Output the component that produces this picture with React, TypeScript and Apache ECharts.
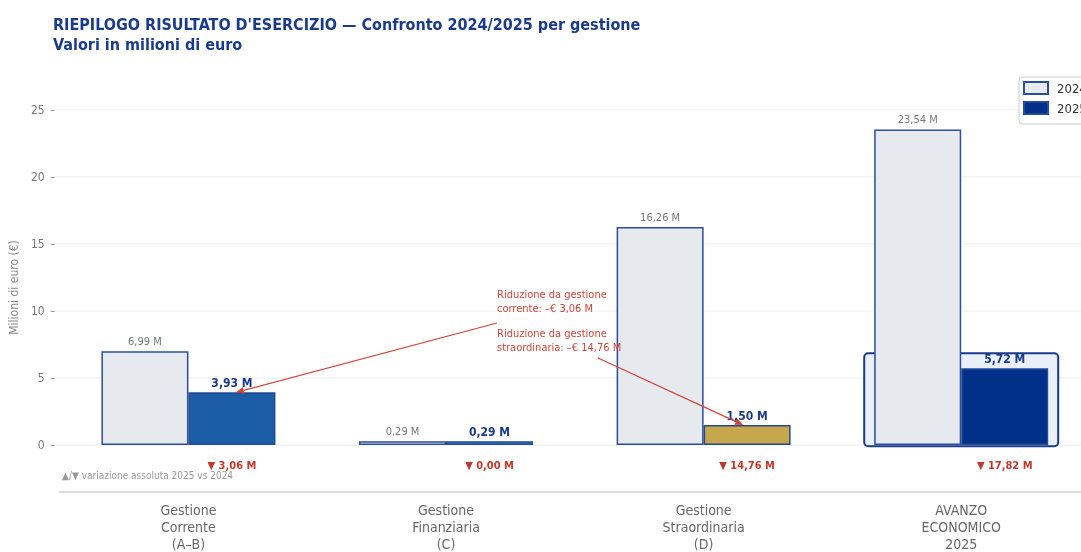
import React, { useEffect, useRef } from 'react';
import * as echarts from 'echarts';

const categories = [
  'Gestione\nCorrente\n(A–B)',
  'Gestione\nFinanziaria\n(C)',
  'Gestione\nStraordinaria\n(D)',
  'AVANZO\nECONOMICO\n2025',
];
const values2024 = [6.99, 0.29, 16.26, 23.54];
const values2025 = [3.93, 0.29, 1.5, 5.72];
const deltas = [-3.06, 0.0, -14.76, -17.82];
const colors2025 = ['#1c5da7', '#2f7cc0', '#c6a74b', '#003087'];
const yTicks = [0, 5, 10, 15, 20, 25];
const highlightCategory = 3;
const highlightRange = [-0.08, 6.85];
const deltaLabelValue = -1.5;
const annotationTexts = [
  'Riduzione da gestione\ncorrente: –€ 3,06 M',
  'Riduzione da gestione\nstraordinaria: –€ 14,76 M',
];
const annotationTargets = [0, 2];

const FONT = "'DejaVu Sans Condensed', 'DejaVu Sans'";
const BAR_WIDTH = 87;
const fmt = (v: number) => v.toFixed(2).replace('.', ',') + ' M';

export default function App() {
  const ref = useRef<HTMLDivElement>(null);
  useEffect(() => {
    if (!ref.current) return;
    const chart = echarts.init(ref.current, undefined, { renderer: 'svg' });
    chart.setOption({
      animation: false,
      textStyle: { fontFamily: FONT },
      title: {
        text: "RIEPILOGO RISULTATO D'ESERCIZIO — Confronto 2024/2025 per gestione\nValori in milioni di euro",
        left: 48,
        top: 9,
        textStyle: { fontSize: 16, fontWeight: 'bold', color: '#1a3a8a', lineHeight: 20, fontFamily: FONT },
      },
      legend: {
        data: ['2024', '2025'],
        orient: 'vertical',
        left: 1019,
        top: 77,
        itemWidth: 24,
        itemHeight: 12,
        itemGap: 6,
        padding: [4, 5, 9, 4],
        borderColor: '#ccc',
        borderWidth: 1,
        borderRadius: 3,
        backgroundColor: '#fff',
        icon: 'rect',
        textStyle: { fontSize: 13, color: '#333', fontFamily: FONT, padding: [0, 0, 0, 4] },
      },
      grid: { left: 58, right: 0, top: 83, bottom: 59, containLabel: false },
      xAxis: {
        type: 'category',
        data: categories,
        axisLine: { show: true, onZero: false, lineStyle: { color: '#ddd', width: 2 } },
        axisTick: { show: false },
        axisLabel: { color: '#666', fontSize: 14, lineHeight: 17, margin: 9, interval: 0, fontFamily: FONT },
        splitLine: { show: false },
      },
      yAxis: {
        type: 'value',
        min: -3.5,
        max: 27,
        offset: 5,
        name: 'Milioni di euro (€)',
        nameLocation: 'middle',
        nameGap: 27,
        nameTextStyle: { color: '#888', fontSize: 12, fontFamily: FONT },
        axisLine: { show: false },
        axisTick: { show: true, length: 4, lineStyle: { color: '#999' }, customValues: yTicks },
        axisLabel: { color: '#777', fontSize: 12, margin: 10, customValues: yTicks, fontFamily: FONT },
        splitLine: { show: false },
      },
      series: [
        {
          type: 'custom',
          name: 'grid',
          silent: true,
          z: 0,
          data: yTicks.map((v) => [0, v]),
          renderItem: (params: any, api: any) => {
            const y = api.coord([0, api.value(1)])[1];
            const cs = params.coordSys;
            return {
              type: 'line',
              shape: { x1: cs.x - 5, y1: y, x2: cs.x + cs.width, y2: y },
              style: { stroke: '#eeeeee', lineWidth: 1 },
            };
          },
        },
        {
          type: 'custom',
          name: 'highlight',
          silent: true,
          z: 1,
          data: [[highlightCategory, highlightRange[0], highlightRange[1]]],
          encode: { x: 0, y: [1, 2] },
          renderItem: (params: any, api: any) => {
            const top = api.coord([api.value(0), api.value(2)]);
            const base = api.coord([api.value(0), api.value(1)]);
            const half = BAR_WIDTH + 10;
            return {
              type: 'rect',
              shape: { x: top[0] - half, y: top[1], width: half * 2, height: base[1] - top[1], r: 4 },
              style: { fill: '#e9f0f9', stroke: '#1a3a8a', lineWidth: 2 },
            };
          },
        },
        {
          name: '2024',
          type: 'bar',
          z: 3,
          barWidth: BAR_WIDTH,
          barGap: '0%',
          data: values2024,
          itemStyle: { color: '#e6e9ee', borderColor: '#2c4f9a', borderWidth: 1.5 },
          label: {
            show: true,
            position: 'top',
            distance: 4,
            color: '#777',
            fontSize: 11,
            fontFamily: FONT,
            formatter: (p: any) => fmt(p.value),
          },
        },
        {
          name: '2025',
          type: 'bar',
          z: 3,
          barWidth: BAR_WIDTH,
          barGap: '0%',
          data: values2025.map((v, i) => ({ value: v, itemStyle: { color: colors2025[i] } })),
          itemStyle: { color: '#003087', borderColor: '#234a95', borderWidth: 1.5 },
          label: {
            show: true,
            position: 'top',
            distance: 3,
            color: '#1a3a8a',
            fontSize: 12,
            fontWeight: 'bold',
            fontFamily: FONT,
            formatter: (p: any) => fmt(p.value),
          },
        },
        {
          type: 'custom',
          name: 'delta',
          silent: true,
          z: 4,
          data: deltas.map((d, i) => [i, d]),
          encode: { x: 0 },
          renderItem: (params: any, api: any) => {
            const d = api.value(1);
            const p = api.coord([api.value(0), deltaLabelValue]);
            const sym = d > 0 ? '▲ ' : '▼ ';
            return {
              type: 'text',
              x: p[0] + BAR_WIDTH / 2,
              y: p[1],
              style: {
                text: sym + fmt(Math.abs(d)),
                fill: '#c0392b',
                fontSize: 11,
                fontWeight: 'bold',
                fontFamily: FONT,
                align: 'center',
                verticalAlign: 'middle',
              },
            };
          },
        },
      ],
    });

    const starts = [
      [497, 323],
      [598, 358],
    ];
    const textPos = [
      [497, 287],
      [497, 326],
    ];
    const offsets = [
      [4, 0],
      [-4, 0],
    ];
    const graphics: any[] = [];
    annotationTargets.forEach((ci, k) => {
      const c = chart.convertToPixel({ gridIndex: 0 }, [ci, values2025[ci]]) as number[];
      const ex = c[0] + BAR_WIDTH / 2 + offsets[k][0];
      const ey = c[1] + offsets[k][1];
      const [sx, sy] = starts[k];
      const ang = Math.atan2(ey - sy, ex - sx);
      const L = 8;
      const W = 3.5;
      const bx = ex - L * Math.cos(ang);
      const by = ey - L * Math.sin(ang);
      graphics.push({
        type: 'line',
        shape: { x1: sx, y1: sy, x2: bx, y2: by },
        style: { stroke: '#d0453a', lineWidth: 1.2 },
        z: 10,
      });
      graphics.push({
        type: 'polygon',
        shape: {
          points: [
            [ex, ey],
            [bx + W * Math.sin(ang), by - W * Math.cos(ang)],
            [bx - W * Math.sin(ang), by + W * Math.cos(ang)],
          ],
        },
        style: { fill: '#d0453a' },
        z: 10,
      });
      graphics.push({
        type: 'text',
        x: textPos[k][0],
        y: textPos[k][1],
        style: {
          text: annotationTexts[k],
          fill: '#d0453a',
          fontSize: 11,
          lineHeight: 14,
          fontFamily: FONT,
        },
        z: 10,
      });
    });
    graphics.push({
      type: 'text',
      x: 62,
      y: 470,
      style: {
        text: '▲/▼ variazione assoluta 2025 vs 2024',
        fill: '#999',
        fontSize: 10,
        fontFamily: FONT,
      },
      z: 10,
    });
    chart.setOption({ graphic: graphics });

    return () => chart.dispose();
  }, []);
  return <div ref={ref} style={{ position: 'fixed', left: 0, top: 0, width: 1090, height: 552 }} />;
}
